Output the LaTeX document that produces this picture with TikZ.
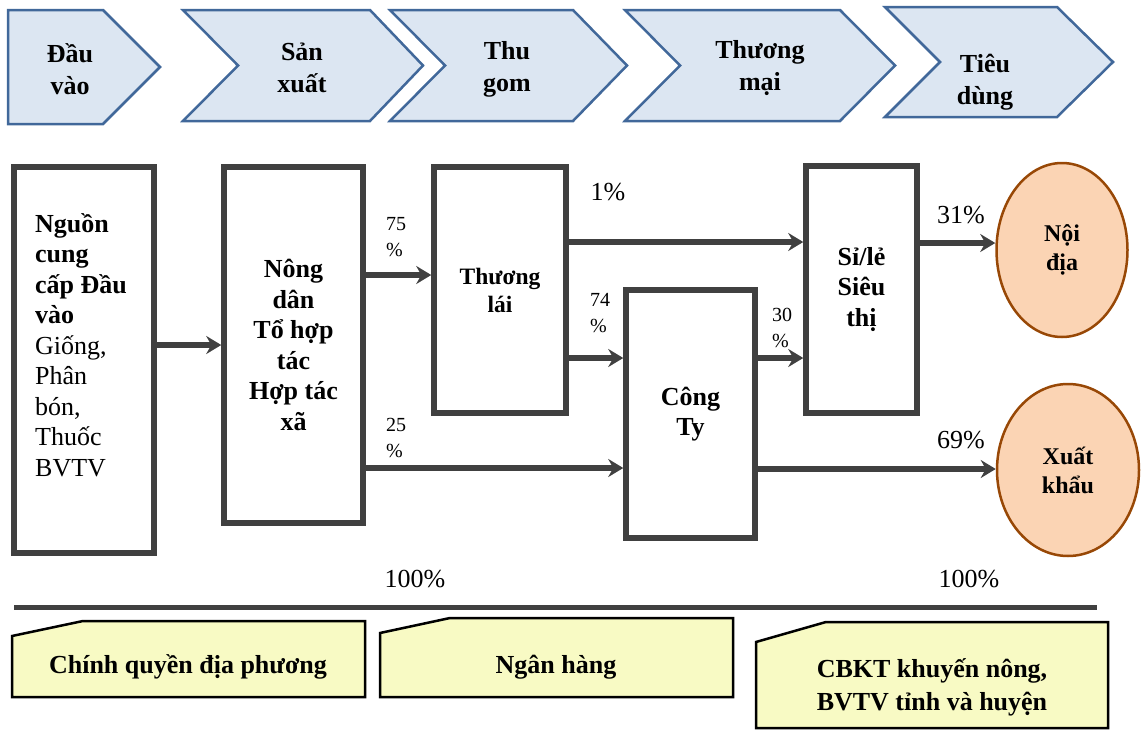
\documentclass[tikz,border=0pt]{standalone}
\usepackage{fontspec}
\setmainfont{Liberation Serif}
\usetikzlibrary{arrows.meta,shapes.geometric}
\definecolor{chfill}{HTML}{DCE6F2}
\definecolor{chdraw}{HTML}{41689A}
\definecolor{boxd}{HTML}{404040}
\definecolor{elfill}{HTML}{FBD4B4}
\definecolor{eldraw}{HTML}{984806}
\definecolor{yfill}{HTML}{F8FAC4}
\begin{document}
\begin{tikzpicture}[x=1pt,y=-1pt,
  chev/.style={fill=chfill,draw=chdraw,line width=2.5pt,line join=miter},
  chtxt/.style={font=\fontsize{26}{32}\selectfont\bfseries,align=center,inner sep=0},
  box/.style={draw=boxd,line width=5.5pt,fill=white,inner sep=0,align=center,font=\fontsize{26}{30.5}\selectfont\bfseries},
  arr/.style={draw=boxd,line width=5.5pt,-{Stealth[length=15pt,width=18pt,inset=5pt]}},
  pct/.style={font=\fontsize{26}{30}\selectfont,inner sep=0},
  spct/.style={font=\fontsize{20}{26}\selectfont,align=left,inner sep=0},
  ell/.style={ellipse,fill=elfill,draw=eldraw,line width=2.5pt,inner sep=0,align=center,font=\fontsize{24}{29}\selectfont\bfseries},
  ybox/.style={fill=yfill,draw=black,line width=2.5pt,line join=miter},
  ytxt/.style={font=\fontsize{26}{33}\selectfont\bfseries,align=center,inner sep=0}
]
\useasboundingbox (0,0) rectangle (1144,731);

% stage chevrons
\draw[chev] (8,10) -- (103,10) -- (160,67) -- (103,124) -- (8,124) -- cycle;
\node[chtxt] (c1) at (70,69) {Đầu\\vào};
\draw[chev] (183,10) -- (370,10) -- (423,65.5) -- (370,121) -- (183,121) -- (238,65.5) -- cycle;
\node[chtxt] (c2) at (302,68) {Sản\\xuất};
\draw[chev] (390,10) -- (573,10) -- (627,65.5) -- (573,121) -- (390,121) -- (445,65.5) -- cycle;
\node[chtxt] (c3) at (507,69) {Thu\\gom};
\draw[chev] (625,10) -- (840,10) -- (895,65.5) -- (840,121) -- (625,121) -- (680,65.5) -- cycle;
\node[chtxt] (c4) at (760,68) {Thương\\mại};
\draw[chev] (885,7) -- (1057,7) -- (1113,62) -- (1057,117) -- (885,117) -- (940,62) -- cycle;
\node[chtxt] (c5) at (985,82) {Tiêu\\dùng};

% main boxes
\node[box, minimum width=140, minimum height=386] (src) at (84,360) {};
\node[font=\fontsize{26}{30.5}\selectfont, align=left, inner sep=0, anchor=west] (srct) at (35,345)
  {\textbf{Nguồn}\\\textbf{cung}\\\textbf{cấp Đầu}\\\textbf{vào}\\Giống,\\Phân\\bón,\\Thuốc\\BVTV};
\node[box, minimum width=139, minimum height=356] (nd) at (293.5,345) {Nông\\dân\\Tổ hợp\\tác\\Hợp tác\\xã};
\node[box, minimum width=132, minimum height=246, font=\fontsize{23.5}{28}\selectfont\bfseries] (tl) at (500,290) {Thương\\lái};
\node[box, minimum width=129, minimum height=248] (ct) at (690.5,414) {Công\\Ty};
\node[box, minimum width=111, minimum height=247] (sl) at (861.5,289.5) {Sỉ/lẻ\\Siêu\\thị};

% outlets
\node[ell, minimum width=131, minimum height=174] (noi) at (1062,250) {Nội\\địa};
\node[ell, minimum width=142, minimum height=172] (xk) at (1068,470) {Xuất\\khẩu};

% flows
\draw[arr] (src.east |- nd.west) -- (nd.west);
\draw[arr] (nd.east |- 0,275) -- (tl.west |- 0,275);
\draw[arr] (nd.east |- 0,468) -- (ct.west |- 0,468);
\draw[arr] (tl.east |- 0,242) -- (sl.west |- 0,242);
\draw[arr] (tl.east |- 0,358) -- (ct.west |- 0,358);
\draw[arr] (ct.east |- 0,358) -- (sl.west |- 0,358);
\draw[arr] (sl.east |- 0,243) -- (noi.west |- 0,243);
\draw[arr] (ct.east |- 0,469) -- (xk.west |- 0,469);

% labels
\node[spct, anchor=west] (l75) at (386,237) {75\\\%};
\node[spct, anchor=west] (l25) at (386,438) {25\\\%};
\node[spct, anchor=west] (l74) at (590,313) {74\\\%};
\node[spct, anchor=west] (l30) at (772,328) {30\\\%};
\node[pct] (l1) at (608,192) {1\%};
\node[pct] (l31) at (961,215) {31\%};
\node[pct] (l69) at (961,440) {69\%};
\node[pct] (h1) at (415,579) {100\%};
\node[pct] (h2) at (969,579) {100\%};

% separator
\coordinate (sa) at (14,607);
\coordinate (sb) at (1097,607);
\draw[boxd, line width=5pt] (sa) -- (sb);

% support boxes
\draw[ybox] (12,636) -- (83,621) -- (365,621) -- (365,697) -- (12,697) -- cycle;
\node[ytxt] (s1) at (188,667) {Chính quyền địa phương};
\draw[ybox] (380,633) -- (450,618) -- (733,618) -- (733,697) -- (380,697) -- cycle;
\node[ytxt] (s2) at (556,667) {Ngân hàng};
\draw[ybox] (756,642) -- (826,622) -- (1108,622) -- (1108,728) -- (756,728) -- cycle;
\node[ytxt] (s3) at (932,687) {CBKT khuyến nông,\\BVTV tỉnh và huyện};
\end{tikzpicture}
\end{document}
